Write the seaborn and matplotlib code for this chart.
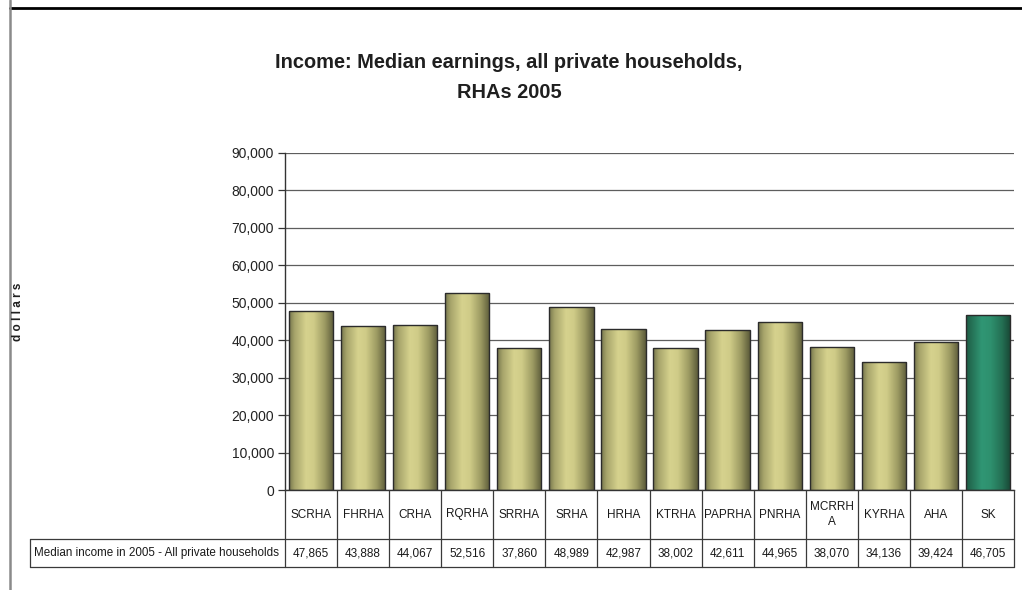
import numpy as np
import matplotlib
matplotlib.use("Agg")
import matplotlib.pyplot as plt
import matplotlib.transforms as mtransforms
from matplotlib import font_manager
from matplotlib.lines import Line2D
import seaborn as sns

# Median income in 2005, all private households, by health region
regions = ["SCRHA", "FHRHA", "CRHA", "RQRHA", "SRRHA", "SRHA", "HRHA",
           "KTRHA", "PAPRHA", "PNRHA", "MCRRHA", "KYRHA", "AHA", "SK"]
header_labels = ["SCRHA", "FHRHA", "CRHA", "RQRHA", "SRRHA", "SRHA", "HRHA",
                 "KTRHA", "PAPRHA", "PNRHA", "MCRRH\nA", "KYRHA", "AHA", "SK"]
median_income = [47865, 43888, 44067, 52516, 37860, 48989, 42987,
                 38002, 42611, 44965, 38070, 34136, 39424, 46705]
yticks = [0, 10000, 20000, 30000, 40000, 50000, 60000, 70000, 80000, 90000]
row_label = "Median income in 2005 - All private households"
title = "Income: Median earnings, all private households,\nRHAs 2005"

sns.set_theme(style="white")


def have_font(name):
    try:
        font_manager.findfont(name, fallback_to_default=False)
        return True
    except Exception:
        return False


base = "Liberation Sans" if have_font("Liberation Sans") else "DejaVu Sans"
plt.rcParams["font.family"] = [base, "DejaVu Sans"]

W, H = 1022, 590
fig = plt.figure(figsize=(W / 100, H / 100), dpi=100)
fig.patch.set_facecolor("white")


def fx(px):
    return px / W


def fy(py):
    return 1 - py / H


ax = fig.add_axes([fx(285), fy(490), fx(1014 - 285), (490 - 153) / H])

bar_colors = ["#c8c584"] * (len(regions) - 1) + ["#2e9674"]
sns.barplot(x=regions, y=median_income, hue=regions, palette=bar_colors,
            legend=False, width=0.85, edgecolor="#2b2b2b", linewidth=1.0,
            saturation=1, ax=ax)

ax.set_xlim(-0.5, len(regions) - 0.5)
ax.set_ylim(0, 90000)
ax.set_yticks(yticks)
ax.set_yticklabels([f"{v:,}" for v in yticks], fontsize=10, color="#222222")
ax.set_xticks([])
ax.set_xlabel("")
ax.set_ylabel("")
ax.yaxis.grid(True, color="#5e5e5e", linewidth=0.9)
ax.set_axisbelow(True)
for side in ("top", "right"):
    ax.spines[side].set_visible(False)
for side in ("left", "bottom"):
    ax.spines[side].set_color("#333333")
    ax.spines[side].set_linewidth(1.0)
ax.tick_params(axis="y", left=True, length=5, width=0.9, color="#333333", pad=3)
ax.patch.set_alpha(0)

# Cylinder-like shading across each bar
olive_stops = [(0.0, (118, 117, 76)), (0.12, (166, 164, 106)), (0.38, (214, 210, 142)),
               (0.55, (208, 204, 136)), (0.8, (156, 154, 98)), (1.0, (92, 91, 58))]
green_stops = [(0.0, (30, 92, 68)), (0.35, (48, 150, 116)), (0.55, (46, 144, 110)),
               (0.8, (36, 112, 84)), (1.0, (24, 70, 52))]


def shade(stops, n=128):
    t = np.linspace(0, 1, n)
    pos = [s[0] for s in stops]
    rgb = np.stack([np.interp(t, pos, [s[1][k] for s in stops]) for k in range(3)], axis=-1)
    return (rgb / 255.0)[None, :, :]


for i, bar in enumerate(ax.patches):
    x0, y0 = bar.get_x(), bar.get_y()
    w, h = bar.get_width(), bar.get_height()
    grad = shade(green_stops if regions[i] == "SK" else olive_stops)
    im = ax.imshow(grad, extent=[x0, x0 + w, y0, y0 + h], aspect="auto",
                   interpolation="bilinear", zorder=bar.get_zorder() - 0.1)
    im.set_clip_path(bar)
    bar.set_facecolor("none")

ax.set_xlim(-0.5, len(regions) - 0.5)
ax.set_ylim(0, 90000)

# Data table below the axis
tr = mtransforms.blended_transform_factory(ax.transData, fig.transFigure)
line_kw = dict(color="#3a3a3a", linewidth=0.9, clip_on=False)
n = len(regions)
y_axis, y_mid, y_bot = fy(490), fy(539), fy(567)
for k in range(n + 1):
    fig.add_artist(Line2D([k - 0.5, k - 0.5], [y_axis, y_bot], transform=tr, **line_kw))
x_left_data = ax.transData.inverted().transform((fig.transFigure.transform((fx(30), 0))[0], 0))[0]
for yy in (y_mid, y_bot):
    fig.add_artist(Line2D([x_left_data, n - 0.5], [yy, yy], transform=tr, **line_kw))
fig.add_artist(Line2D([fx(30), fx(30)], [y_mid, y_bot], transform=fig.transFigure, **line_kw))

tsize = 8.5
for k, (lab, val) in enumerate(zip(header_labels, median_income)):
    fig.text(k, (y_axis + y_mid) / 2, lab, transform=tr, ha="center", va="center",
             fontsize=tsize, color="#1a1a1a", linespacing=1.25)
    fig.text(k, (y_mid + y_bot) / 2, f"{val:,}", transform=tr, ha="center", va="center",
             fontsize=tsize, color="#1a1a1a")
fig.text(fx(34), (y_mid + y_bot) / 2, row_label, ha="left", va="center",
         fontsize=8.4, color="#1a1a1a")

# Titles
fig.text(fx(509), fy(77.5), title, ha="center", va="center", fontsize=14.4,
         fontweight="bold", color="#1f1f1f", linespacing=1.67)
fig.text(fx(18), fy(312), "d o l l a r s", rotation=90, ha="center", va="center",
         fontsize=8.5, fontweight="bold", color="#1f1f1f")

# Outer frame lines
fig.add_artist(Line2D([fx(10), 1], [fy(7.5), fy(7.5)], transform=fig.transFigure,
                      color="black", linewidth=2))
fig.add_artist(Line2D([fx(10), fx(10)], [0, 1], transform=fig.transFigure,
                      color="#8a8a8a", linewidth=1.8))

fig.savefig("out.png", dpi=100, facecolor="white")
